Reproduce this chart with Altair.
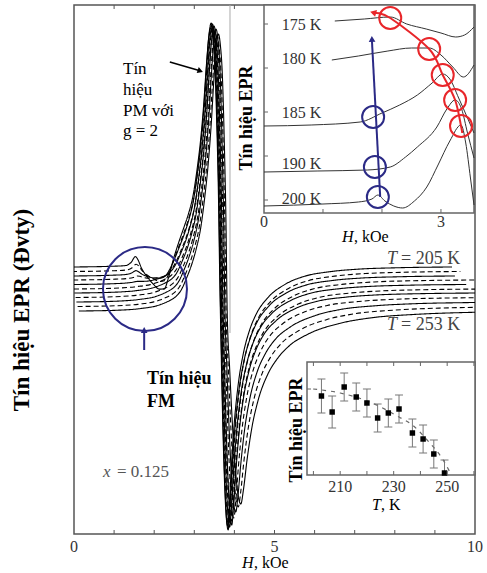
import altair as alt
import pandas as pd

SERIF = "Liberation Serif"
W, HGT = 401, 529
NAVY = "#2b2a86"
RED = "#e8262a"

# ---------------- main panel: EPR spectra ----------------
H_GRID = [0, 1.0, 1.35, 1.5, 1.6, 1.66, 1.75, 1.9, 2.05, 2.2, 2.32, 2.42, 2.55, 2.69, 2.82, 2.92,
          3.04, 3.14, 3.22, 3.30, 3.37, 3.43, 3.48, 3.53, 3.58, 3.63, 3.67, 3.70, 3.74, 3.79, 3.84,
          3.89, 3.92, 3.96, 4.02, 4.10, 4.20, 4.35, 4.5, 4.7, 5.0, 5.5, 6.0, 6.7, 7.5, 8.5, 10]
SHAPE = [0, 0.003, 0.006, 0.008, 0.01, 0.011, 0.013, 0.017, 0.024, 0.033, 0.042, 0.052, 0.075, 0.12,
         0.17, 0.22, 0.3, 0.41, 0.52, 0.67, 0.84, 0.96, 1.0, 0.96, 0.85, 0.6, 0.32, 0.0, -0.3, -0.62,
         -0.85, -0.98, -1.0, -0.93, -0.77, -0.6, -0.46, -0.33, -0.25, -0.18, -0.12, -0.065, -0.036,
         -0.018, -0.008, -0.003, 0]
FM_SHAPE = [0, 0, 0, 3, 8, 5, -4, -14, -23, -30, -32, -24, -10, -3] + [0] * 33
BASE = [267, 262.5, 258, 254, 249.5, 245, 241, 236.5, 232, 227.5, 223]
PEAK = [506, 509, 511, 507, 510, 504, 508, 502, 505, 498, 500]
TROUGH = [8, 6, 4, 10, 7, 13, 9, 16, 22, 27, 30]
SHIFT = [-0.07, -0.05, -0.06, -0.02, -0.03, 0.0, 0.01, 0.04, 0.06, 0.09, 0.12]
STRETCH = [0.92, 0.95, 0.93, 1.0, 0.97, 1.05, 1.02, 1.12, 1.25, 1.4, 1.55]
FM_AMP = [1.0, 0.6, 0.35, 0.18, 0.06, 0, 0, 0, 0, 0, 0]
STYLE = ["solid" if i % 2 == 0 else "dashed" for i in range(len(BASE))]
H_CROSS = 3.70

MAIN_TICKS = [1, 2, 3, 4, 5, 6, 7, 8, 9]
MAIN_LABELS = [0, 5, 10]

rows = []
for i in range(len(BASE)):
    for h, f, fm in zip(H_GRID, SHAPE, FM_SHAPE):
        if h <= H_CROSS:
            hh = h + SHIFT[i]
        else:
            hh = H_CROSS + SHIFT[i] + (h - H_CROSS) * STRETCH[i]
        if f >= 0:
            v = BASE[i] + f * (PEAK[i] - BASE[i])
        else:
            v = BASE[i] + f * (BASE[i] - TROUGH[i])
        v += fm * FM_AMP[i]
        rows.append({"H": hh, "v": v, "curve": i, "style": STYLE[i]})
spectra = pd.DataFrame(rows)

MX = alt.Scale(domain=[0, 10])
MY = alt.Scale(domain=[0, 529])


def mx(f="H"):
    return alt.X(f"{f}:Q", scale=MX, axis=None)


def my(f="v"):
    return alt.Y(f"{f}:Q", scale=MY, axis=None)


one = pd.DataFrame({"a": [0]})


def txt(text, x, y, size=16, bold=False, italic=False, color="black", align="left", angle=0):
    kw = dict(text=text, font=SERIF, fontSize=size, color=color, align=align, baseline="middle")
    if bold:
        kw["fontWeight"] = "bold"
    if italic:
        kw["fontStyle"] = "italic"
    if angle:
        kw["angle"] = angle
    return alt.Chart(one).mark_text(**kw).encode(x=alt.value(x), y=alt.value(y))


lines = alt.Chart(spectra).mark_line(color="black", strokeWidth=1.1, clip=True, interpolate="monotone").encode(
    x=mx(), y=my(), detail="curve:N",
    strokeDash=alt.StrokeDash("style:N", scale=alt.Scale(domain=["solid", "dashed"], range=[[1, 0], [5, 3]]),
                              legend=None))

tick_df = pd.DataFrame({"H": MAIN_TICKS})
ticks_b = alt.Chart(tick_df).mark_rule(color="#555").encode(x=mx(), y=alt.value(HGT), y2=alt.value(HGT - 4))
ticks_t = alt.Chart(tick_df).mark_rule(color="#555").encode(x=mx(), y=alt.value(0), y2=alt.value(4))
lab_df = pd.DataFrame({"H": MAIN_LABELS, "t": [str(x) for x in MAIN_LABELS]})
labels = alt.Chart(lab_df).mark_text(font=SERIF, fontSize=16, color="#333", baseline="middle").encode(
    x=mx(), y=alt.value(542), text="t:N")

# gray frame line of pasted panel
vline = alt.Chart(pd.DataFrame({"H": [3.89], "v0": [201], "v1": [529]})).mark_rule(color="#aaa").encode(
    x=mx(), y=my("v0"), y2="v1:Q")

# blue circle + arrow around FM signal
circ = alt.Chart(pd.DataFrame({"H": [1.77], "v": [245]})).mark_point(
    shape="circle", size=7056, color=NAVY, strokeWidth=2, filled=False, opacity=1).encode(x=mx(), y=my())
barrow = alt.Chart(pd.DataFrame({"H": [1.75], "v0": [184], "v1": [202]})).mark_rule(
    color=NAVY, strokeWidth=2).encode(x=mx(), y=my("v0"), y2="v1:Q")
bhead = alt.Chart(pd.DataFrame({"H": [1.75], "v": [204]})).mark_point(
    shape="triangle-up", size=45, filled=True, color=NAVY, opacity=1).encode(x=mx(), y=my())

# black arrow to PM signal
karrow = alt.Chart(pd.DataFrame({"H": [2.39], "v0": [472], "H2": [3.12], "v1": [463.5]})).mark_rule(
    color="black", strokeWidth=1.5).encode(x=mx(), y=my("v0"), x2="H2:Q", y2="v1:Q")
khead = alt.Chart(pd.DataFrame({"H": [3.15], "v": [463]})).mark_point(
    shape="triangle-right", size=40, filled=True, color="black", angle=19, opacity=1).encode(x=mx(), y=my())

main = alt.layer(
    lines, vline, ticks_b, ticks_t, labels, circ, barrow, bhead, karrow, khead,
    txt("H", 168, 558, italic=True), txt(", kOe", 180, 558),
    txt("Tín hiệu EPR (Đvty)", -52, 305, size=23, bold=True, align="center", angle=270),
    txt("Tín", 49, 64, size=17), txt("hiệu", 49, 85, size=17), txt("PM  với", 49, 106, size=17),
    txt("g = 2", 49, 126, size=17),
    txt("Tín hiệu", 73, 374, size=18, bold=True), txt("FM", 73, 397, size=18, bold=True),
    txt("x", 29, 467, size=17, italic=True, color="#555"), txt("= 0.125", 43, 467, size=17, color="#555"),
    txt("T", 313, 254, size=18, italic=True, color="#444"), txt("= 205 K", 327, 254, size=18, color="#444"),
    txt("T", 313, 320, size=18, italic=True, color="#444"), txt("= 253 K", 327, 320, size=18, color="#444"),
)

# ---------------- inset 1: low-temperature spectra ----------------
IX = alt.Scale(domain=[0, 3.56], range=[190, 400])
IY = alt.Scale(domain=[0, 208], range=[208, 0])
I1_LABELS = ["175 K", "180 K", "185 K", "190 K", "200 K"]
I1_LABEL_V = [188, 154, 100, 49, 14]
I1_H = {
    "175 K": [1.20, 1.7, 2.14, 2.42, 2.75, 3.0, 3.25, 3.4, 3.56],
    "180 K": [1.15, 1.6, 2.1, 2.5, 2.8, 3.0, 3.2, 3.38, 3.56],
    "185 K": [0, 0.8, 1.63, 2.0, 2.3, 2.6, 2.85, 3.03, 3.15, 3.3, 3.45, 3.56],
    "190 K": [0, 0.9, 1.75, 2.14, 2.4, 2.6, 2.93, 3.1, 3.24, 3.35, 3.45, 3.56],
    "200 K": [0, 1.0, 1.6, 1.83, 1.93, 2.05, 2.2, 2.35, 2.55, 2.76, 2.95, 3.15, 3.34, 3.42, 3.5, 3.56],
}
I1_V = {
    "175 K": [192, 194, 196, 189, 184, 180, 176, 178, 186],
    "180 K": [153, 157, 162, 165, 165, 158, 146, 136, 148],
    "185 K": [87, 88, 91, 100, 108, 118, 130, 139, 134, 115, 95, 80],
    "190 K": [41, 42, 43, 46, 56, 66, 86, 104, 113, 104, 80, 55],
    "200 K": [7, 9, 11, 14, 18, 12, 7, 5, 12, 26, 48, 72, 88, 70, 35, 8],
}
RED_H = [3.34, 3.24, 3.03, 2.80, 2.14]
RED_V = [87, 113, 138, 164, 195]
RED_PATH_H = [3.36, 3.34, 3.24, 3.03, 2.80, 2.14, 1.88]
RED_PATH_V = [80, 87, 113, 138, 164, 195, 200]
BLUE_H = [1.85, 1.88, 1.93]
BLUE_V = [96, 46, 16]
I1_XLABELS = [0, 3]
I1_XTICKS = [1, 2, 3]
I1_YTICKS = [189, 145, 101, 57, 13]
I1_DOM_H = [0, 3.56]
I1_DOM_V = [0, 208]


def ix(f="H"):
    return alt.X(f"{f}:Q", scale=IX, axis=None)


def iy(f="v"):
    return alt.Y(f"{f}:Q", scale=IY, axis=None)


i1_rows = [{"H": h, "v": v, "T": k} for k in I1_LABELS for h, v in zip(I1_H[k], I1_V[k])]
i1 = pd.DataFrame(i1_rows)

frame1 = alt.Chart(pd.DataFrame({"x0": [I1_DOM_H[0]], "x1": [I1_DOM_H[1]], "y0": [I1_DOM_V[0]],
                                 "y1": [I1_DOM_V[1]]})).mark_rect(fill="white", stroke="#666",
                                                                 strokeWidth=1.5).encode(
    x=ix("x0"), x2="x1:Q", y=iy("y0"), y2="y1:Q")
i1_lines = alt.Chart(i1).mark_line(color="#333", strokeWidth=1, interpolate="monotone").encode(
    x=ix(), y=iy(), detail="T:N")
i1_lab = alt.Chart(pd.DataFrame({"H": [0.30] * 5, "v": I1_LABEL_V, "t": I1_LABELS})).mark_text(
    font=SERIF, fontSize=16, color="#333", align="left", baseline="middle").encode(x=ix(), y=iy(), text="t:N")
red_path = alt.Chart(pd.DataFrame({"H": RED_PATH_H, "v": RED_PATH_V, "o": list(range(len(RED_PATH_H)))})).mark_line(
    color=RED, strokeWidth=2, interpolate="cardinal").encode(x=ix(), y=iy(), order="o:Q")
red_c = alt.Chart(pd.DataFrame({"H": RED_H, "v": RED_V})).mark_point(
    shape="circle", size=484, color=RED, strokeWidth=2, filled=False, opacity=1).encode(x=ix(), y=iy())
red_head = alt.Chart(pd.DataFrame({"H": [1.85], "v": [200.5]})).mark_point(
    shape="triangle-left", size=50, filled=True, color=RED, angle=16, opacity=1).encode(x=ix(), y=iy())
blue_c = alt.Chart(pd.DataFrame({"H": BLUE_H, "v": BLUE_V})).mark_point(
    shape="circle", size=484, color=NAVY, strokeWidth=2, filled=False, opacity=1).encode(x=ix(), y=iy())
blue_ln = alt.Chart(pd.DataFrame({"H": [1.97], "v": [16], "H2": [1.83], "v2": [172]})).mark_rule(
    color=NAVY, strokeWidth=2).encode(x=ix(), y=iy(), x2="H2:Q", y2="v2:Q")
blue_head = alt.Chart(pd.DataFrame({"H": [1.83], "v": [174]})).mark_point(
    shape="triangle-up", size=45, filled=True, color=NAVY, angle=357, opacity=1).encode(x=ix(), y=iy())
i1_xt = alt.Chart(pd.DataFrame({"H": I1_XTICKS})).mark_rule(color="#666").encode(
    x=ix(), y=alt.value(208), y2=alt.value(204))
i1_yt = alt.Chart(pd.DataFrame({"v": I1_YTICKS})).mark_rule(color="#666").encode(
    y=iy(), x=alt.value(190), x2=alt.value(194))
i1_xl = alt.Chart(pd.DataFrame({"H": I1_XLABELS, "t": [str(x) for x in I1_XLABELS]})).mark_text(
    font=SERIF, fontSize=16, color="#333", baseline="middle").encode(x=ix(), y=alt.value(217), text="t:N")

inset1 = alt.layer(
    frame1, i1_lines, red_path, red_c, red_head, blue_ln, blue_head, blue_c, i1_lab, i1_xt, i1_yt, i1_xl,
    txt("H", 268, 232, size=16, italic=True), txt(", kOe", 280, 232, size=16),
    txt("Tín hiệu EPR", 173, 113, size=18, bold=True, align="center", angle=270),
)

# ---------------- inset 2: FM intensity vs T ----------------
JX = alt.Scale(domain=[197.6, 260.4], range=[233, 401])
JY = alt.Scale(domain=[0, 113], range=[470, 357])
T_PTS = [203, 207, 211.5, 216, 220, 224, 228, 232, 237, 241, 245, 249]
I_PTS = [79, 63, 88, 78, 72, 57, 62, 66, 42, 36, 21, 2]
I_ERR = [17, 16, 14, 14, 14, 14, 14, 14, 14, 14, 14, 13]
FIT_T = [199.9, 210, 221, 232, 237, 242.5, 248.5, 251]
FIT_V = [86, 82, 73, 58, 50, 35, 15, 3]
I2_TICKS = [200, 210, 220, 230, 240, 250, 260]
I2_LABELS = [210, 230, 250]
I2_YTICKS = [86]
I2_DOM_T = [197.6, 260.4]
I2_DOM_V = [0, 113]


def jx(f="T"):
    return alt.X(f"{f}:Q", scale=JX, axis=None)


def jy(f="v"):
    return alt.Y(f"{f}:Q", scale=JY, axis=None)


pts = pd.DataFrame({"T": T_PTS, "v": I_PTS,
                    "lo": [max(v - e, 0) for v, e in zip(I_PTS, I_ERR)],
                    "hi": [v + e for v, e in zip(I_PTS, I_ERR)]})
frame2 = alt.Chart(pd.DataFrame({"x0": [I2_DOM_T[0]], "x1": [I2_DOM_T[1]], "y0": [I2_DOM_V[0]],
                                 "y1": [I2_DOM_V[1]]})).mark_rect(fill="white", stroke="#666",
                                                                 strokeWidth=1.5).encode(
    x=jx("x0"), x2="x1:Q", y=jy("y0"), y2="y1:Q")
fit = alt.Chart(pd.DataFrame({"T": FIT_T, "v": FIT_V})).mark_line(
    color="#666", strokeWidth=1.2, strokeDash=[4, 5], interpolate="monotone").encode(x=jx(), y=jy())
err = alt.Chart(pts).mark_rule(color="#777", strokeWidth=1).encode(x=jx(), y=jy("lo"), y2="hi:Q")
cap_hi = alt.Chart(pts).mark_tick(orient="horizontal", size=8, thickness=1, color="#777", opacity=1).encode(
    x=jx(), y=jy("hi"))
cap_lo = alt.Chart(pts).mark_tick(orient="horizontal", size=8, thickness=1, color="#777", opacity=1).encode(
    x=jx(), y=jy("lo"))
sq = alt.Chart(pts).mark_point(shape="square", size=30, filled=True, color="black", opacity=1).encode(
    x=jx(), y=jy())
j_t = pd.DataFrame({"T": I2_TICKS})
j_tb = alt.Chart(j_t).mark_rule(color="#666").encode(x=jx(), y=alt.value(470), y2=alt.value(466))
j_tt = alt.Chart(j_t).mark_rule(color="#666").encode(x=jx(), y=alt.value(357), y2=alt.value(361))
j_yt = alt.Chart(pd.DataFrame({"v": I2_YTICKS})).mark_rule(color="#666").encode(
    y=jy(), x=alt.value(233), x2=alt.value(237))
j_lab = alt.Chart(pd.DataFrame({"T": I2_LABELS, "t": [str(x) for x in I2_LABELS]})).mark_text(
    font=SERIF, fontSize=16, color="#333", baseline="middle").encode(x=jx(), y=alt.value(482), text="t:N")

inset2 = alt.layer(
    frame2, fit, err, cap_hi, cap_lo, sq, j_tb, j_tt, j_yt, j_lab,
    txt("T", 298, 500, size=16, italic=True), txt(", K", 307, 500, size=16),
    txt("Tín hiệu EPR", 223, 425, size=18, bold=True, align="center", angle=270),
)

chart = alt.layer(main, inset1, inset2).resolve_scale(x="independent", y="independent").properties(
    width=W, height=HGT,
    padding={"left": 74, "top": 5, "right": 12, "bottom": 39},
    autosize=alt.AutoSizeParams(type="none"),
    background="white",
).configure_view(stroke="#555", strokeWidth=1.5)

chart.save("out.html", embed_options={"renderer": "svg", "actions": False})
